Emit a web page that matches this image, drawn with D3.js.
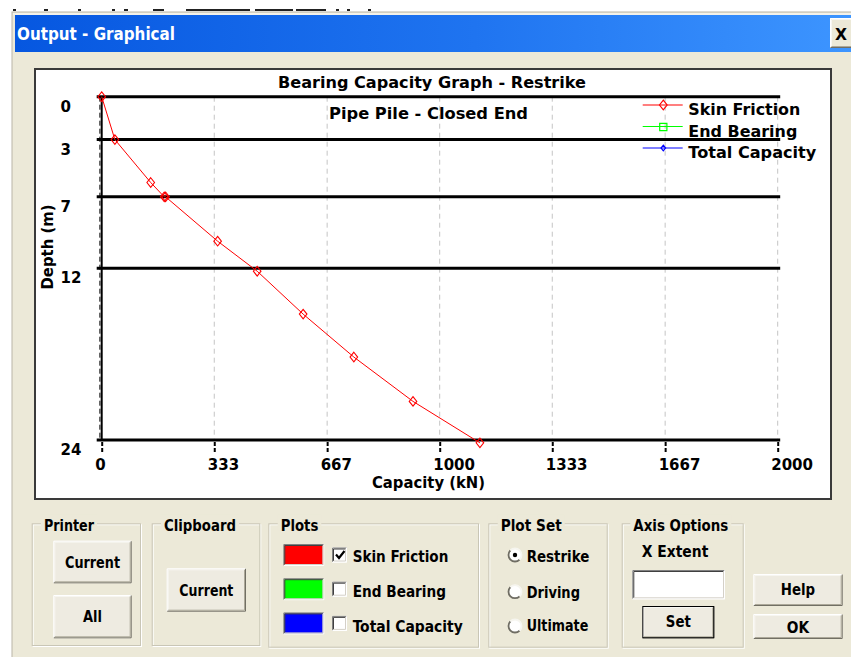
<!DOCTYPE html>
<html>
<head>
<meta charset="utf-8">
<script src="https://cdn.jsdelivr.net/npm/d3@7"></script>
<style>
  html, body { margin: 0; padding: 0; background: #ffffff; }
  svg { display: block; }
</style>
</head>
<body>
<svg id="win" width="851" height="657"></svg>
<script>
// ---- chart data -------------------------------------------------------
const depthTicks = [0, 3, 7, 12, 24];                       // m
const capacityTicks = [0, 333, 667, 1000, 1333, 1667, 2000]; // kN
const skinDepth    = [0, 3, 6, 7, 7, 10.1, 12.2, 15.2, 18.2, 21.3, 24.2];
const skinCapacity = [0, 39, 145, 185, 189, 343, 460, 596, 746, 921, 1119];

const seriesNames   = ["Skin Friction", "End Bearing", "Total Capacity"];
const seriesColors  = ["#ff0000", "#00ff00", "#0000ff"];
const seriesMarkers = ["diamond", "square", "smallDiamond"];
const plotsChecked  = [true, false, false];

const plotSets    = ["Restrike", "Driving", "Ultimate"];
const selectedSet = "Restrike";

const chartTitle    = "Bearing Capacity Graph - Restrike";
const chartSubtitle = "Pipe Pile - Closed End";
const xTitle        = "Capacity (kN)";
const yTitle        = "Depth (m)";
const windowTitle   = "Output - Graphical";

// ---- helpers ----------------------------------------------------------
const svg = d3.select("#win");
const FACE = "#ECE9D8";
const CHART_FONT = "'DejaVu Sans', Verdana, sans-serif";
const UI_FONT = "'DejaVu Sans Condensed', 'DejaVu Sans', sans-serif";

function markerPath(kind) {
  const p = d3.path();
  if (kind === "diamond") {
    p.moveTo(0, -4.8); p.lineTo(3.8, 0); p.lineTo(0, 4.8); p.lineTo(-3.8, 0); p.closePath();
  } else if (kind === "smallDiamond") {
    p.moveTo(0, -2.8); p.lineTo(2.3, 0); p.lineTo(0, 2.8); p.lineTo(-2.3, 0); p.closePath();
  } else {
    p.rect(-3.6, -3.6, 7.2, 7.2);
  }
  return p.toString();
}

function label(g, txt, x, y, opts = {}) {
  const t = g.append("text")
    .attr("x", x).attr("y", y)
    .attr("font-family", opts.family || UI_FONT)
    .attr("font-weight", "bold")
    .attr("font-size", opts.size || 16.5)
    .attr("fill", opts.fill || "#000")
    .attr("text-anchor", opts.anchor || "start")
    .text(txt);
  if (opts.width) t.attr("textLength", opts.width).attr("lengthAdjust", "spacingAndGlyphs");
  return t;
}

function bevel(g, x, y, w, h, raised) {
  const hi = raised ? "#ffffff" : "#808080";
  const lo = raised ? "#716F64" : "#ffffff";
  const hi2 = raised ? "#f7f6f1" : "#404040";
  const lo2 = raised ? "#ACA899" : "#D4D0C8";
  g.append("path").attr("d", `M${x},${y + h} V${y} H${x + w}`).attr("fill", "none").attr("stroke", hi);
  g.append("path").attr("d", `M${x + w},${y} V${y + h} H${x}`).attr("fill", "none").attr("stroke", lo);
  g.append("path").attr("d", `M${x + 1},${y + h - 1} V${y + 1} H${x + w - 1}`).attr("fill", "none").attr("stroke", hi2);
  g.append("path").attr("d", `M${x + w - 1},${y + 1} V${y + h - 1} H${x + 1}`).attr("fill", "none").attr("stroke", lo2);
}

function button(g, x, y, w, h, txt, tw, base, isDefault) {
  g.append("rect").attr("x", x).attr("y", y).attr("width", w).attr("height", h).attr("fill", "#EEEBE1");
  bevel(g, x + 0.5, y + 0.5, w - 1, h - 1, true);
  if (isDefault) {
    g.append("rect").attr("x", x + 0.5).attr("y", y + 0.5).attr("width", w - 1).attr("height", h - 1)
      .attr("fill", "none").attr("stroke", "#000");
  }
  label(g, txt, x + w / 2, base, { anchor: "middle", width: tw });
}

function groupBox(g, x0, y0, x1, y1, txt, tx, tw) {
  g.append("rect").attr("x", x0 + 1.5).attr("y", y0 + 1.5).attr("width", x1 - x0).attr("height", y1 - y0)
    .attr("fill", "none").attr("stroke", "#ffffff");
  g.append("rect").attr("x", x0 + 0.5).attr("y", y0 + 0.5).attr("width", x1 - x0).attr("height", y1 - y0)
    .attr("fill", "none").attr("stroke", "#C9C6B6");
  g.append("rect").attr("x", tx - 3).attr("y", y0 - 9).attr("width", tw + 6).attr("height", 16).attr("fill", FACE);
  label(g, txt, tx, y0 + 7.4, { width: tw });
}

// ---- window frame -----------------------------------------------------
const frame = svg.append("g");
frame.append("rect").attr("x", 0).attr("y", 0).attr("width", 851).attr("height", 657).attr("fill", "#ffffff");
// strip of the window behind the dialog
[[13, 3], [44, 4], [78, 3], [112, 3], [124, 4], [153, 11], [186, 64], [255, 38], [296, 30], [336, 3], [347, 3], [368, 3]]
  .forEach(([sx, sw]) => frame.append("rect").attr("x", sx).attr("y", 9).attr("width", sw).attr("height", 2).attr("fill", "#222"));
frame.append("rect").attr("x", 12).attr("y", 12).attr("width", 845).attr("height", 650)
  .attr("fill", FACE).attr("stroke", "#B9B6A8");
frame.append("rect").attr("x", 13).attr("y", 13).attr("width", 840).attr("height", 2).attr("fill", "#F4F2EA");

const grad = svg.append("defs").append("linearGradient").attr("id", "titleGrad")
  .attr("x1", "0").attr("x2", "1").attr("y1", "0").attr("y2", "0");
grad.append("stop").attr("offset", "0").attr("stop-color", "#0657E0");
grad.append("stop").attr("offset", "0.55").attr("stop-color", "#1F74F0");
grad.append("stop").attr("offset", "1").attr("stop-color", "#3D95FF");
frame.append("rect").attr("x", 15).attr("y", 15).attr("width", 836).attr("height", 37).attr("fill", "url(#titleGrad)");
label(frame, windowTitle, 17, 39.5, { size: 18, fill: "#ffffff", width: 158 });

// close box
frame.append("rect").attr("x", 830).attr("y", 18).attr("width", 24).attr("height", 30).attr("fill", FACE);
bevel(frame, 830.5, 18.5, 23, 29, true);
label(frame, "X", 841, 39.5, { size: 16, anchor: "middle", family: CHART_FONT, width: 12 });

// ---- chart ------------------------------------------------------------
const chart = svg.append("g");
chart.append("rect").attr("x", 35).attr("y", 69).attr("width", 796).attr("height", 430)
  .attr("fill", "#ffffff").attr("stroke", "#3a3a3a").attr("stroke-width", 2);

const x = d3.scaleLinear().domain([0, 2000]).range([101.7, 777.7]);
const y = d3.scaleLinear().domain([0, 24]).range([96.7, 440]);

// dashed vertical grid
chart.append("g").selectAll("line")
  .data(capacityTicks.filter(d => d > 0))
  .join("line")
  .attr("x1", d => x(d)).attr("x2", d => x(d))
  .attr("y1", y(0)).attr("y2", y(24))
  .attr("stroke", "#C4C4C4").attr("stroke-dasharray", "5,4");

// layer lines at the tabulated depths
chart.append("g").selectAll("line")
  .data(depthTicks)
  .join("line")
  .attr("x1", x(0) - 5).attr("x2", x(2000) + 2.5)
  .attr("y1", d => y(d)).attr("y2", d => y(d))
  .attr("stroke", "#000").attr("stroke-width", 3);

// depth axis line
chart.append("line").attr("x1", x(0)).attr("x2", x(0)).attr("y1", y(0)).attr("y2", y(24))
  .attr("stroke", "#000").attr("stroke-width", 2);
chart.append("line").attr("x1", x(0) - 1.8).attr("x2", x(0) - 1.8).attr("y1", y(0)).attr("y2", y(24))
  .attr("stroke", "#000").attr("stroke-width", 1).attr("stroke-dasharray", "5,3");

// capacity axis
const xAxisG = chart.append("g")
  .attr("transform", `translate(0,${y(24) + 2})`)
  .call(d3.axisBottom(x).tickValues(capacityTicks).tickFormat(d3.format("d")).tickSize(10));
xAxisG.select(".domain").remove();
xAxisG.selectAll(".tick line").attr("stroke", "#000").attr("stroke-width", 2).attr("stroke-dasharray", "4,2");
xAxisG.selectAll(".tick text")
  .attr("font-family", CHART_FONT).attr("font-weight", "bold").attr("font-size", 15).attr("fill", "#000")
  .attr("text-anchor", "start").attr("x", -7).attr("y", 27.5).attr("dy", null);

// depth axis labels
const yAxisG = chart.append("g")
  .attr("transform", `translate(${x(0)},0)`)
  .call(d3.axisLeft(y).tickValues(depthTicks).tickFormat(d3.format("d")).tickSize(0));
yAxisG.select(".domain").remove();
yAxisG.selectAll(".tick text")
  .attr("font-family", CHART_FONT).attr("font-weight", "bold").attr("font-size", 15).attr("fill", "#000")
  .attr("text-anchor", "start").attr("x", 60.5 - x(0)).attr("y", 14.5).attr("dy", null);

// titles
label(chart, chartTitle, 432, 88, { family: CHART_FONT, size: 16, anchor: "middle", width: 308 });
label(chart, chartSubtitle, 428.5, 119.3, { family: CHART_FONT, size: 16, anchor: "middle", width: 199 });
label(chart, xTitle, 428.5, 488, { family: CHART_FONT, size: 15, anchor: "middle", width: 113 });
label(chart, yTitle, 0, 0, { family: CHART_FONT, size: 15, anchor: "middle", width: 85 })
  .attr("transform", "translate(52.5,247) rotate(-90)");

// skin friction curve
const pts = skinDepth.map((d, i) => [skinCapacity[i], d]);
chart.append("path")
  .attr("d", d3.line().x(p => x(p[0])).y(p => y(p[1]))(pts))
  .attr("fill", "none").attr("stroke", seriesColors[0]).attr("stroke-width", 1);
chart.append("g").selectAll("path")
  .data(pts)
  .join("path")
  .attr("d", markerPath(seriesMarkers[0]))
  .attr("transform", p => `translate(${x(p[0])},${y(p[1])})`)
  .attr("fill", "none").attr("stroke", seriesColors[0]).attr("stroke-width", 1.1);

// legend
const legend = chart.append("g");
seriesNames.forEach((name, i) => {
  const ly = 105 + i * 21.5;
  legend.append("line").attr("x1", 642.7).attr("x2", 682.7).attr("y1", ly).attr("y2", ly)
    .attr("stroke", seriesColors[i]).attr("stroke-width", 1.2);
  legend.append("path").attr("d", markerPath(seriesMarkers[i]))
    .attr("transform", `translate(663.3,${ly + (seriesMarkers[i] === "square" ? 0.5 : 0)})`)
    .attr("fill", "none").attr("stroke", seriesColors[i]).attr("stroke-width", 1.2);
  label(legend, name, 688.3, ly + 10, { family: CHART_FONT, size: 16, width: [112, 109, 128][i] });
});

// ---- control panel ----------------------------------------------------
const ui = svg.append("g");

groupBox(ui, 31.7, 523.3, 140, 645, "Printer", 44, 50);
button(ui, 53.3, 540.7, 78.4, 42.6, "Current", 55, 568.3, false);
button(ui, 53.3, 595, 78.4, 43.3, "All", 19, 621.7, false);

groupBox(ui, 151.7, 523.3, 259.3, 645, "Clipboard", 164, 72);
button(ui, 166.7, 568.3, 79.3, 43.4, "Current", 54, 595.7, false);

groupBox(ui, 268.3, 523.3, 478, 646.7, "Plots", 280.7, 37.6);
const plotTextW = [95.6, 93.3, 110];
seriesNames.forEach((name, i) => {
  const top = 545 + i * 34.2;
  ui.append("rect").attr("x", 284.3).attr("y", top).attr("width", 39).attr("height", 20)
    .attr("fill", seriesColors[i]);
  bevel(ui, 283.8, top - 0.5, 40, 21, false);
  const cy = top + 2.5;
  ui.append("rect").attr("x", 332).attr("y", cy).attr("width", 15).attr("height", 15).attr("fill", "#ffffff");
  bevel(ui, 332.5, cy + 0.5, 14, 14, false);
  if (plotsChecked[i]) {
    ui.append("path").attr("d", `M336,${cy + 7} l3,3.5 l5.5,-7`)
      .attr("fill", "none").attr("stroke", "#000").attr("stroke-width", 2.2);
  }
  label(ui, name, 352.7, 561.7 + i * 35, { width: plotTextW[i] });
});

groupBox(ui, 488.3, 523.3, 606.7, 646.7, "Plot Set", 500.7, 61);
const setTextW = [62.6, 53.3, 61.6];
const radioY = [555, 591.7, 626];
plotSets.forEach((name, i) => {
  const cy = radioY[i];
  ui.append("circle").attr("cx", 515).attr("cy", cy).attr("r", 7).attr("fill", "#ffffff");
  ui.append("path").attr("d", d3.arc()({ innerRadius: 5.6, outerRadius: 7.4, startAngle: -Math.PI * 0.75, endAngle: Math.PI * 0.25 }))
    .attr("transform", `translate(515,${cy}) rotate(-90)`).attr("fill", "#6f6d63");
  ui.append("path").attr("d", d3.arc()({ innerRadius: 5.6, outerRadius: 7.4, startAngle: Math.PI * 0.25, endAngle: Math.PI * 1.25 }))
    .attr("transform", `translate(515,${cy}) rotate(-90)`).attr("fill", "#f6f5ef");
  if (name === selectedSet) {
    ui.append("circle").attr("cx", 515).attr("cy", cy).attr("r", 2.2).attr("fill", "#000");
  }
  label(ui, name, 526.7, [561.7, 598.3, 631][i], { width: setTextW[i] });
});

groupBox(ui, 621.7, 523.3, 742.7, 646.7, "Axis Options", 633.3, 95);
label(ui, "X Extent", 641.7, 557.3, { width: 66.6 });
ui.append("rect").attr("x", 632.3).attr("y", 570).attr("width", 92.7).attr("height", 29.3).attr("fill", "#ffffff");
bevel(ui, 632.8, 570.5, 91.7, 28.3, false);
button(ui, 642.3, 606, 72, 32.3, "Set", 25, 626.7, true);

button(ui, 753.3, 574, 89.4, 32, "Help", 34.3, 595, false);
button(ui, 753.3, 614, 89.4, 25, "OK", 22.3, 633.3, false);
</script>
</body>
</html>
